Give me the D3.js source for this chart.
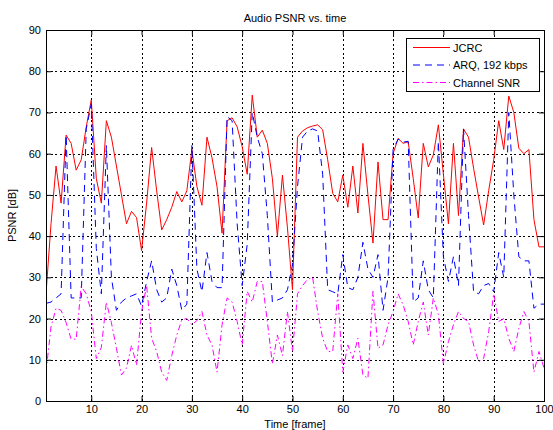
<!DOCTYPE html>
<html>
<head>
<meta charset="utf-8">
<script src="https://cdn.jsdelivr.net/npm/d3@7"></script>
<style>
  html, body { margin: 0; padding: 0; background: #fff; }
  svg { display: block; }
  text { font-family: "Liberation Sans", Arial, Helvetica, sans-serif; fill: #000; }
</style>
</head>
<body>
<svg id="chart" width="553" height="430"></svg>
<script>
// ---- data ----
const xTicks = [10, 20, 30, 40, 50, 60, 70, 80, 90, 100];
const yTicks = [0, 10, 20, 30, 40, 50, 60, 70, 80, 90];
const seriesNames = ["JCRC", "ARQ, 192 kbps", "Channel SNR"];

const jcrc = [26, 43, 57, 48, 64.5, 62.5, 56, 58.5, 66.5, 73,
  54, 48, 68, 64, 57, 50, 43, 46, 44.5, 36.5,
  48, 61.5, 51, 41.5, 44, 47, 50.8, 48.3, 51, 61,
  52, 47.5, 64, 59, 52, 40.7, 68, 68.7, 66.5, 61.7,
  55, 74.2, 64, 65.7, 62.5, 54, 40, 54.8, 42, 27,
  64, 65.5, 66.3, 66.7, 67, 65.8, 58.5, 50.4, 48.3, 54.8,
  47, 57, 45.6, 62.5, 50, 38.3, 58, 44, 44, 60,
  63.7, 62.5, 62.9, 54, 44.4, 62.5, 56.8, 59.7, 67, 55,
  43, 62.5, 45, 66, 64, 56.5, 49.5, 42.7, 51, 58.5,
  68, 61, 74, 70, 61.3, 60, 61, 44, 37.4, 37.4];

const arq = [23.7, 24, 25, 26, 64.5, 25, 25, 25, 66, 72,
  37, 26, 62, 30, 22, 24, 25, 25.5, 26, 23,
  29, 34, 27, 24, 25, 32, 28, 22, 23.5, 62,
  32, 26.5, 36, 29, 27.5, 27.5, 69, 68, 43, 28,
  38, 70, 64, 60, 45, 24, 24.5, 25, 27, 33,
  52, 64, 65.5, 66, 65.5, 55, 27, 26.5, 26, 35.5,
  27.5, 27, 30, 38.5, 32, 30, 35.5, 22, 30, 61,
  63.5, 62.8, 63, 24, 25, 34, 27, 25, 63, 35,
  29, 35, 28, 66, 45, 26.5, 26, 28, 28.5, 26.5,
  36, 30, 70, 50, 35, 34, 34, 22.5, 23.5, 23.5];

const snr = [7, 18, 22.5, 22, 19, 15, 15, 27.8, 26, 21.7,
  10.3, 13, 24, 19, 12.8, 6.3, 8, 13.5, 8.7, 21.7,
  28, 15.2, 12, 7, 5, 11, 16, 19.7, 20, 18.5,
  19.5, 21.7, 16, 13.6, 7, 18.5, 25, 24, 19.3, 13.6,
  26.6, 24, 29, 29, 19.3, 9, 16, 11, 21.7, 12,
  26, 28, 29.5, 30, 21.7, 15.2, 12, 12, 26, 7,
  13.6, 10.3, 15.2, 6.3, 5.5, 26.6, 12.8, 13.6, 18.5, 21.7,
  26, 23.3, 19.3, 13.6, 19.3, 24, 16, 25, 21, 9,
  14.4, 18.5, 21.7, 20, 19.3, 13.6, 9.5, 10.3, 16.8, 26,
  19.3, 20, 15.2, 12, 17.6, 21.7, 19.3, 7, 12, 8];

// ---- layout ----
const svg = d3.select("#chart");
const L = 46, R = 544, T = 30, B = 401;
const x = d3.scaleLinear().domain([1, 100]).range([L, R]);
const y = d3.scaleLinear().domain([0, 90]).range([B, T]);

svg.append("rect").attr("width", 553).attr("height", 430).attr("fill", "#fff");

// grid
const grid = svg.append("g").attr("stroke", "#000").attr("stroke-width", 1)
  .attr("stroke-dasharray", "2,2.5").attr("shape-rendering", "crispEdges");
grid.selectAll("line.v").data(xTicks.filter(d => d < 100)).join("line")
  .attr("x1", d => Math.round(x(d)) + 0.5).attr("x2", d => Math.round(x(d)) + 0.5)
  .attr("y1", T).attr("y2", B);
grid.selectAll("line.h").data(yTicks.filter(d => d > 0 && d < 90)).join("line")
  .attr("class", "h")
  .attr("y1", d => Math.round(y(d)) + 0.5).attr("y2", d => Math.round(y(d)) + 0.5)
  .attr("x1", L).attr("x2", R);

// lines
svg.append("clipPath").attr("id", "clip").append("rect")
  .attr("x", L).attr("y", T).attr("width", R - L).attr("height", B - T);
const line = d3.line().x((d, i) => x(i + 1)).y(d => y(d));
const plot = svg.append("g").attr("clip-path", "url(#clip)").attr("fill", "none");
const styles = [
  { data: jcrc, color: "#ff0000", dash: null },
  { data: arq, color: "#0000ff", dash: "7,5" },
  { data: snr, color: "#ff00ff", dash: "6,3,1.5,3" }
];
styles.forEach(s => {
  plot.append("path").datum(s.data).attr("d", line)
    .attr("stroke", s.color).attr("stroke-width", 1)
    .attr("stroke-dasharray", s.dash);
});

// axes
const fmt = d3.format("d");
const axB = svg.append("g").attr("transform", `translate(0,${B})`)
  .call(d3.axisBottom(x).tickValues(xTicks).tickFormat(fmt).tickSizeInner(-5).tickSizeOuter(0).tickPadding(4));
const axL = svg.append("g").attr("transform", `translate(${L},0)`)
  .call(d3.axisLeft(y).tickValues(yTicks).tickFormat(fmt).tickSizeInner(-5).tickSizeOuter(0).tickPadding(5));
const axT = svg.append("g").attr("transform", `translate(0,${T})`)
  .call(d3.axisTop(x).tickValues(xTicks).tickFormat("").tickSizeInner(-5).tickSizeOuter(0));
const axR = svg.append("g").attr("transform", `translate(${R},0)`)
  .call(d3.axisRight(y).tickValues(yTicks).tickFormat("").tickSizeInner(-5).tickSizeOuter(0));
[axB, axL, axT, axR].forEach(a => {
  a.select(".domain").remove();
  a.selectAll("text").attr("font-size", 11).attr("fill", "#000")
    .attr("font-family", '"Liberation Sans", Arial, sans-serif');
  a.selectAll("line").attr("stroke", "#000");
});

// frame
svg.append("rect").attr("x", L + 0.5).attr("y", T + 0.5)
  .attr("width", R - L).attr("height", B - T)
  .attr("fill", "none").attr("stroke", "#000").attr("stroke-width", 1);

// titles
svg.append("text").attr("x", (L + R) / 2).attr("y", 22).attr("text-anchor", "middle")
  .attr("font-size", 11).text("Audio PSNR vs. time");
svg.append("text").attr("x", (L + R) / 2).attr("y", 428).attr("text-anchor", "middle")
  .attr("font-size", 11).text("Time [frame]");
svg.append("text").attr("transform", `translate(16,${(T + B) / 2}) rotate(-90)`)
  .attr("text-anchor", "middle").attr("font-size", 11).text("PSNR [dB]");

// legend
const lg = svg.append("g");
lg.append("rect").attr("x", 406.5).attr("y", 38.5).attr("width", 133).attr("height", 53)
  .attr("fill", "#fff").attr("stroke", "#000").attr("stroke-width", 1);
styles.forEach((s, i) => {
  const yy = 47.5 + i * 17.5;
  lg.append("line").attr("x1", 413).attr("x2", 450).attr("y1", yy).attr("y2", yy)
    .attr("stroke", s.color).attr("stroke-width", 1).attr("stroke-dasharray", s.dash);
  lg.append("text").attr("x", 453).attr("y", yy + 4).attr("font-size", 11)
    .text(seriesNames[i]);
});
</script>
</body>
</html>
